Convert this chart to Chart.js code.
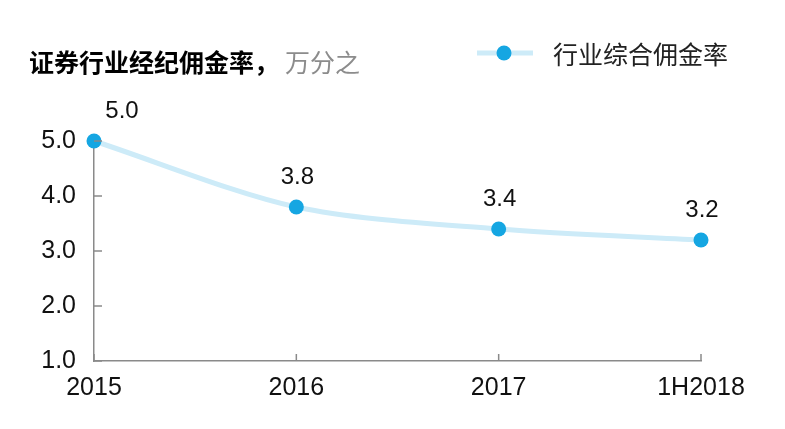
<html>
<head>
    <title>证券行业经纪佣金率</title>
    <style>
        body { margin: 0; background: #fff; }
        #wrap { position: relative; width: 785px; height: 429px; }
    </style>
</head>
<body>
<div id="wrap"><canvas id="rateChart" width="785" height="429"></canvas></div>

<script src="https://cdn.jsdelivr.net/npm/chart.js"></script>
<script>
    // data
    const years = ['2015', '2016', '2017', '1H2018']
    const rates = [5.0, 3.8, 3.4, 3.2]
    const seriesName = '行业综合佣金率'
    const titleMain = '证券行业经纪佣金率，'
    const titleUnit = '万分之'

    const lineColor = '#cdebf8'
    const dotColor = '#15a6e2'
    const axisColor = '#8a8a8a'
    const numFont = '24px "Liberation Sans", Arial, sans-serif'
    const cjkFont = '"Noto Sans CJK SC", sans-serif'

    // title, legend, inward ticks and value labels
    const decorations = {
        id: 'decorations',
        afterDraw(chart) {
            const ctx = chart.ctx
            const x = chart.scales.x
            const y = chart.scales.y
            ctx.save()
            // inward tick marks
            ctx.strokeStyle = axisColor
            ctx.lineWidth = 1.5
            y.ticks.forEach((t, i) => {
                const py = y.getPixelForTick(i)
                ctx.beginPath()
                ctx.moveTo(x.left, py)
                ctx.lineTo(x.left + 8, py)
                ctx.stroke()
            })
            x.ticks.forEach((t, i) => {
                const px = x.getPixelForTick(i)
                ctx.beginPath()
                ctx.moveTo(px, y.bottom)
                ctx.lineTo(px, y.bottom - 7)
                ctx.stroke()
            })
            // value labels
            const meta = chart.getDatasetMeta(0)
            ctx.fillStyle = '#111'
            ctx.font = numFont
            ctx.textAlign = 'center'
            ctx.textBaseline = 'middle'
            meta.data.forEach((pt, i) => {
                const shift = i === 0 ? 28 : 1
                ctx.fillText(rates[i].toFixed(1), pt.x + shift, pt.y - 30)
            })
            // title
            ctx.textAlign = 'left'
            ctx.font = 'bold 25px ' + cjkFont
            ctx.fillStyle = '#000'
            ctx.fillText(titleMain, 29, 62)
            const w = ctx.measureText(titleMain).width
            ctx.font = '25px ' + cjkFont
            ctx.fillStyle = '#8c8c8c'
            ctx.fillText(titleUnit, 29 + w + 6, 62)
            // legend
            ctx.strokeStyle = lineColor
            ctx.lineWidth = 5
            ctx.beginPath()
            ctx.moveTo(477, 53)
            ctx.lineTo(533, 53)
            ctx.stroke()
            ctx.fillStyle = dotColor
            ctx.beginPath()
            ctx.arc(504, 53, 7.5, 0, Math.PI * 2)
            ctx.fill()
            ctx.font = '25px ' + cjkFont
            ctx.fillStyle = '#222'
            ctx.fillText(seriesName, 553, 54)
            ctx.restore()
        }
    }

    new Chart(document.getElementById('rateChart'), {
        type: 'line',
        data: {
            labels: years,
            datasets: [{
                label: seriesName,
                data: rates,
                borderColor: lineColor,
                borderWidth: 5,
                tension: 0.3,
                clip: false,
                pointRadius: 7.5,
                pointHoverRadius: 7.5,
                pointBackgroundColor: dotColor,
                pointBorderWidth: 0
            }]
        },
        options: {
            responsive: false,
            animation: false,
            events: [],
            layout: { padding: { top: 141, right: 84, left: 0, bottom: 0 } },
            plugins: {
                legend: { display: false },
                tooltip: { enabled: false }
            },
            scales: {
                x: {
                    offset: false,
                    grid: { display: false, drawTicks: false },
                    border: { color: axisColor, width: 1.5 },
                    ticks: { color: '#111', font: { family: '"Liberation Sans", Arial', size: 25 }, padding: 12, maxRotation: 0 },
                    afterFit(scale) { scale.height = 68 }
                },
                y: {
                    min: 1,
                    max: 5,
                    grid: { display: false, drawTicks: false },
                    border: { color: axisColor, width: 1.5 },
                    ticks: {
                        stepSize: 1,
                        color: '#111',
                        font: { family: '"Liberation Sans", Arial', size: 25 },
                        padding: 18,
                        callback: v => v.toFixed(1)
                    },
                    afterFit(scale) { scale.width = 94 }
                }
            }
        },
        plugins: [decorations]
    })
</script>
</body>
</html>
